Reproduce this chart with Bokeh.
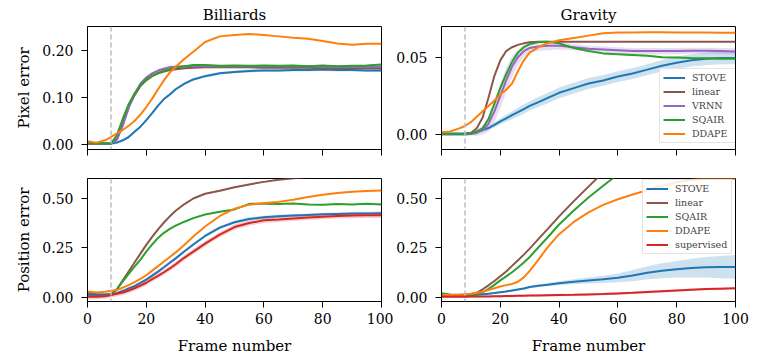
from bokeh.plotting import figure
from bokeh.layouts import gridplot
from bokeh.models import Span, FixedTicker, PrintfTickFormatter, Range1d
from bokeh.embed import file_html
from bokeh.resources import INLINE

# ---------------- data ----------------
frames = [0, 3, 6, 8, 10, 12, 14, 16, 18, 20, 22, 24, 26, 28, 30, 33, 36, 40,
          45, 50, 55, 60, 65, 70, 75, 80, 85, 90, 95, 100]
cutoff_frame = 8
x_ticks = [0, 20, 40, 60, 80, 100]

# Billiards - pixel error
bil_pix_stove = [0.002, 0.002, 0.002, 0.002, 0.004, 0.009, 0.016, 0.027, 0.038, 0.052, 0.067, 0.083,
                 0.097, 0.107, 0.118, 0.130, 0.139, 0.146, 0.152, 0.155, 0.157, 0.158, 0.158, 0.159,
                 0.159, 0.160, 0.159, 0.159, 0.158, 0.158]
bil_pix_linear = [0.002, 0.002, 0.002, 0.002, 0.012, 0.045, 0.080, 0.105, 0.125, 0.137, 0.146, 0.152,
                  0.156, 0.159, 0.161, 0.163, 0.164, 0.165, 0.165, 0.165, 0.165, 0.164, 0.164, 0.164,
                  0.164, 0.163, 0.163, 0.163, 0.163, 0.163]
bil_pix_vrnn = [0.002, 0.002, 0.002, 0.002, 0.010, 0.040, 0.078, 0.108, 0.130, 0.143, 0.152, 0.158,
                0.162, 0.165, 0.166, 0.167, 0.167, 0.167, 0.167, 0.167, 0.167, 0.167, 0.167, 0.167,
                0.167, 0.166, 0.166, 0.166, 0.166, 0.166]
bil_pix_sqair = [0.002, 0.002, 0.002, 0.002, 0.020, 0.055, 0.086, 0.109, 0.127, 0.139, 0.147, 0.153,
                 0.158, 0.161, 0.164, 0.167, 0.170, 0.170, 0.168, 0.169, 0.168, 0.169, 0.168, 0.169,
                 0.167, 0.169, 0.167, 0.168, 0.169, 0.171]
bil_pix_ddape = [0.007, 0.004, 0.009, 0.016, 0.024, 0.031, 0.040, 0.050, 0.064, 0.080, 0.098, 0.118,
                 0.137, 0.154, 0.166, 0.183, 0.198, 0.219, 0.231, 0.234, 0.236, 0.234, 0.231, 0.228,
                 0.226, 0.221, 0.216, 0.213, 0.215, 0.215]

# Gravity - pixel error
grav_pix_stove = [0.0006, 0.0006, 0.0006, 0.0006, 0.001, 0.0018, 0.0028, 0.0042, 0.0062, 0.0085, 0.0105,
                  0.0125, 0.0145, 0.0165, 0.0185, 0.021, 0.0235, 0.027, 0.030, 0.033, 0.035, 0.0375,
                  0.0395, 0.042, 0.0445, 0.0465, 0.048, 0.049, 0.0495, 0.0495]
grav_pix_stove_spread = [0.0005, 0.0005, 0.0005, 0.0005, 0.0006, 0.0008, 0.001, 0.0013, 0.0016, 0.002,
                         0.0023, 0.0026, 0.0028, 0.003, 0.003, 0.0032, 0.0034, 0.0035, 0.0035, 0.0035,
                         0.0035, 0.0035, 0.0035, 0.0035, 0.0037, 0.004, 0.004, 0.004, 0.004, 0.004]
grav_pix_linear = [0.0003, 0.0003, 0.0003, 0.0003, 0.001, 0.004, 0.011, 0.024, 0.038, 0.048, 0.054,
                   0.0565, 0.058, 0.059, 0.0597, 0.060, 0.060, 0.060, 0.060, 0.060, 0.060, 0.060,
                   0.060, 0.060, 0.060, 0.060, 0.060, 0.060, 0.060, 0.060]
grav_pix_vrnn = [0.0, 0.0, 0.0, 0.0, 0.0003, 0.001, 0.003, 0.007, 0.015, 0.025, 0.035, 0.044, 0.050,
                 0.054, 0.056, 0.057, 0.0575, 0.0575, 0.0565, 0.0555, 0.055, 0.0545, 0.054, 0.054,
                 0.054, 0.054, 0.0542, 0.0542, 0.054, 0.0538]
grav_pix_vrnn_spread = [0.0005, 0.0005, 0.0005, 0.0005, 0.001, 0.002, 0.003, 0.005, 0.007, 0.008, 0.008,
                        0.007, 0.005, 0.004, 0.003, 0.003, 0.003, 0.0025, 0.002, 0.002, 0.002, 0.002,
                        0.002, 0.002, 0.002, 0.002, 0.002, 0.002, 0.002, 0.002]
grav_pix_sqair = [0.0003, 0.0003, 0.0003, 0.0003, 0.0006, 0.002, 0.004, 0.010, 0.020, 0.030, 0.039,
                  0.047, 0.053, 0.0565, 0.0585, 0.0598, 0.060, 0.059, 0.056, 0.054, 0.0525, 0.052,
                  0.0515, 0.051, 0.050, 0.0498, 0.0495, 0.0493, 0.049, 0.049]
grav_pix_ddape = [0.0015, 0.002, 0.004, 0.0055, 0.008, 0.0115, 0.015, 0.0185, 0.022, 0.026, 0.029,
                  0.033, 0.041, 0.048, 0.053, 0.0565, 0.059, 0.061, 0.0625, 0.064, 0.0655, 0.066,
                  0.066, 0.0662, 0.0662, 0.066, 0.066, 0.066, 0.0658, 0.0658]

# Billiards - position error
bil_pos_stove = [0.012, 0.012, 0.012, 0.013, 0.020, 0.031, 0.044, 0.056, 0.072, 0.089, 0.109, 0.129,
                 0.151, 0.174, 0.196, 0.232, 0.266, 0.309, 0.351, 0.378, 0.395, 0.403, 0.408, 0.412,
                 0.415, 0.418, 0.420, 0.422, 0.423, 0.424]
bil_pos_linear = [0.015, 0.013, 0.012, 0.013, 0.040, 0.085, 0.130, 0.175, 0.220, 0.264, 0.304, 0.342,
                  0.377, 0.408, 0.436, 0.470, 0.498, 0.522, 0.537, 0.555, 0.569, 0.582, 0.593, 0.600,
                  0.607, 0.613, 0.618, 0.622, 0.626, 0.630]
bil_pos_sqair = [0.024, 0.012, 0.012, 0.015, 0.040, 0.080, 0.118, 0.154, 0.190, 0.230, 0.266, 0.299,
                 0.325, 0.345, 0.361, 0.381, 0.399, 0.417, 0.431, 0.443, 0.471, 0.472, 0.470, 0.473,
                 0.468, 0.466, 0.470, 0.468, 0.471, 0.468]
bil_pos_ddape = [0.029, 0.024, 0.028, 0.032, 0.037, 0.048, 0.061, 0.076, 0.092, 0.111, 0.134, 0.157,
                 0.180, 0.203, 0.226, 0.265, 0.306, 0.357, 0.410, 0.446, 0.467, 0.475, 0.481, 0.492,
                 0.506, 0.517, 0.526, 0.532, 0.536, 0.539]
bil_pos_supervised = [0.002, 0.002, 0.005, 0.011, 0.017, 0.023, 0.033, 0.045, 0.058, 0.073, 0.091,
                      0.108, 0.126, 0.145, 0.166, 0.200, 0.230, 0.270, 0.316, 0.354, 0.374, 0.388,
                      0.392, 0.397, 0.402, 0.406, 0.410, 0.412, 0.413, 0.413]

# Gravity - position error
grav_pos_stove = [0.006, 0.006, 0.007, 0.008, 0.010, 0.012, 0.015, 0.018, 0.021, 0.025, 0.029, 0.034,
                  0.039, 0.044, 0.051, 0.058, 0.063, 0.070, 0.078, 0.084, 0.090, 0.098, 0.109, 0.123,
                  0.133, 0.141, 0.147, 0.151, 0.152, 0.153]
grav_pos_stove_spread = [0.003, 0.003, 0.003, 0.003, 0.003, 0.003, 0.003, 0.004, 0.004, 0.004, 0.005,
                         0.005, 0.005, 0.006, 0.006, 0.007, 0.008, 0.010, 0.012, 0.015, 0.018, 0.022,
                         0.028, 0.033, 0.038, 0.042, 0.047, 0.052, 0.056, 0.060]
grav_pos_linear = [0.012, 0.012, 0.012, 0.013, 0.016, 0.022, 0.040, 0.060, 0.082, 0.106, 0.130, 0.158,
                   0.186, 0.215, 0.245, 0.294, 0.342, 0.408, 0.485, 0.558, 0.630, 0.700, 0.770, 0.840,
                   0.910, 0.980, 1.050, 1.120, 1.190, 1.260]
grav_pos_sqair = [0.020, 0.012, 0.010, 0.010, 0.011, 0.014, 0.025, 0.042, 0.062, 0.085, 0.105, 0.126,
                  0.150, 0.175, 0.203, 0.252, 0.300, 0.367, 0.438, 0.503, 0.562, 0.620, 0.680, 0.740,
                  0.800, 0.860, 0.920, 0.980, 1.040, 1.100]
grav_pos_ddape = [0.010, 0.011, 0.012, 0.014, 0.017, 0.022, 0.028, 0.036, 0.045, 0.054, 0.061, 0.067,
                  0.078, 0.100, 0.133, 0.190, 0.250, 0.318, 0.380, 0.428, 0.466, 0.494, 0.518, 0.540,
                  0.562, 0.580, 0.593, 0.600, 0.600, 0.598]
grav_pos_supervised = [0.002, 0.002, 0.002, 0.002, 0.003, 0.003, 0.004, 0.004, 0.005, 0.005, 0.006,
                       0.006, 0.007, 0.007, 0.008, 0.009, 0.010, 0.011, 0.012, 0.014, 0.016, 0.019,
                       0.022, 0.026, 0.030, 0.034, 0.038, 0.041, 0.043, 0.045]

# ---------------- style ----------------
FONT = "DejaVu Serif"
COLORS = {"STOVE": "#1f77b4", "linear": "#8c564b", "VRNN": "#9467bd",
          "SQAIR": "#2ca02c", "DDAPE": "#ff7f0e", "supervised": "#d62728"}
FRAME_W = 294
FRAME_H = 123


def make_fig(title, ylabel, yrange, yticks, xlabels, left, right, top, bottom):
    kw = {"title": title} if title else {}
    p = figure(frame_width=FRAME_W, frame_height=FRAME_H,
               x_range=Range1d(0, 100), y_range=Range1d(*yrange),
               output_backend="svg", toolbar_location=None,
               min_border_left=left, min_border_right=right,
               min_border_top=top, min_border_bottom=bottom, **kw)
    p.background_fill_color = "white"
    p.border_fill_color = "white"
    p.outline_line_color = "black"
    p.outline_line_width = 1
    p.xgrid.visible = False
    p.ygrid.visible = False
    if title:
        p.title.text_font = FONT
        p.title.text_font_size = "15px"
        p.title.text_font_style = "normal"
        p.title.text_color = "black"
        p.title.align = "center"
        p.title.standoff = 6
        p.title.offset = 0
    for ax in (p.xaxis[0], p.yaxis[0]):
        ax.axis_line_color = "black"
        ax.major_tick_line_color = "black"
        ax.major_tick_out = 6
        ax.major_tick_in = 0
        ax.minor_tick_line_color = None
        ax.major_label_text_font = FONT
        ax.major_label_text_font_size = "14px"
        ax.major_label_text_color = "black"
        ax.axis_label_text_font = FONT
        ax.axis_label_text_font_size = "15px"
        ax.axis_label_text_font_style = "normal"
        ax.axis_label_text_color = "black"
    p.xaxis.ticker = FixedTicker(ticks=x_ticks)
    p.yaxis.ticker = FixedTicker(ticks=yticks)
    p.yaxis.formatter = PrintfTickFormatter(format="%.2f")
    p.yaxis.major_label_standoff = 8
    if ylabel:
        p.yaxis.axis_label = ylabel
        p.yaxis.axis_label_standoff = 6
    if xlabels:
        p.xaxis.axis_label = "Frame number"
        p.xaxis.major_label_standoff = 5
        p.xaxis.axis_label_standoff = 10
    else:
        p.xaxis.major_label_text_color = None
        p.xaxis.major_label_overrides = {t: "" for t in x_ticks}
    p.add_layout(Span(location=cutoff_frame, dimension="height", line_color="#bdbdbd",
                      line_dash="5 3", line_width=1.5))
    return p


def add_series(p, name, values, spread, legend):
    if isinstance(spread, list):
        lo = [v - s for v, s in zip(values, spread)]
        hi = [v + s for v, s in zip(values, spread)]
    else:
        lo = [v - spread for v in values]
        hi = [v + spread for v in values]
    p.varea(x=frames, y1=lo, y2=hi, fill_color=COLORS[name], fill_alpha=0.22)
    kw = {"legend_label": name} if legend else {}
    p.line(frames, values, line_color=COLORS[name], line_width=2, **kw)


def style_legend(p, loc, label_width):
    lg = p.legend[0]
    lg.location = loc
    lg.label_text_font = FONT
    lg.label_text_font_size = "9.5px"
    lg.label_height = 11
    lg.glyph_height = 11
    lg.glyph_width = 22
    lg.label_standoff = 7
    lg.label_width = label_width
    lg.spacing = 3
    lg.padding = 3
    lg.margin = 0
    lg.border_line_color = "#cccccc"
    lg.border_line_width = 1
    lg.background_fill_alpha = 0.85


# top-left: Billiards pixel error
p1 = make_fig("Billiards", "Pixel error", (-0.0107, 0.2521), [0.0, 0.1, 0.2], False, 87, 12, 25, 23)
add_series(p1, "STOVE", bil_pix_stove, 0.003, False)
add_series(p1, "linear", bil_pix_linear, 0.002, False)
add_series(p1, "VRNN", bil_pix_vrnn, 0.003, False)
add_series(p1, "SQAIR", bil_pix_sqair, 0.0015, False)
add_series(p1, "DDAPE", bil_pix_ddape, 0.0005, False)

# top-right: Gravity pixel error
p2 = make_fig("Gravity", None, (-0.0097, 0.0699), [0.0, 0.05], False, 47, 20, 25, 23)
add_series(p2, "STOVE", grav_pix_stove, grav_pix_stove_spread, True)
add_series(p2, "linear", grav_pix_linear, 0.0003, True)
add_series(p2, "VRNN", grav_pix_vrnn, grav_pix_vrnn_spread, True)
add_series(p2, "SQAIR", grav_pix_sqair, 0.0005, True)
add_series(p2, "DDAPE", grav_pix_ddape, 0.0003, True)
style_legend(p2, (218, 6), 40)

# bottom-left: Billiards position error
p3 = make_fig(None, "Position error", (-0.0217, 0.599), [0.0, 0.25, 0.5], True, 87, 12, 6, 52)
add_series(p3, "linear", bil_pos_linear, 0.003, False)
add_series(p3, "SQAIR", bil_pos_sqair, 0.003, False)
add_series(p3, "DDAPE", bil_pos_ddape, 0.003, False)
add_series(p3, "STOVE", bil_pos_stove, 0.008, False)
add_series(p3, "supervised", bil_pos_supervised, 0.013, False)

# bottom-right: Gravity position error
p4 = make_fig(None, None, (-0.0217, 0.599), [0.0, 0.25, 0.5], True, 47, 20, 6, 52)
add_series(p4, "STOVE", grav_pos_stove, grav_pos_stove_spread, True)
add_series(p4, "linear", grav_pos_linear, 0.003, True)
add_series(p4, "SQAIR", grav_pos_sqair, 0.003, True)
add_series(p4, "DDAPE", grav_pos_ddape, 0.003, True)
add_series(p4, "supervised", grav_pos_supervised, 0.006, True)
style_legend(p4, (201, 47), 53)

grid = gridplot([[p1, p2], [p3, p4]], toolbar_location=None)

open("out.html", "w").write(file_html(grid, INLINE))
